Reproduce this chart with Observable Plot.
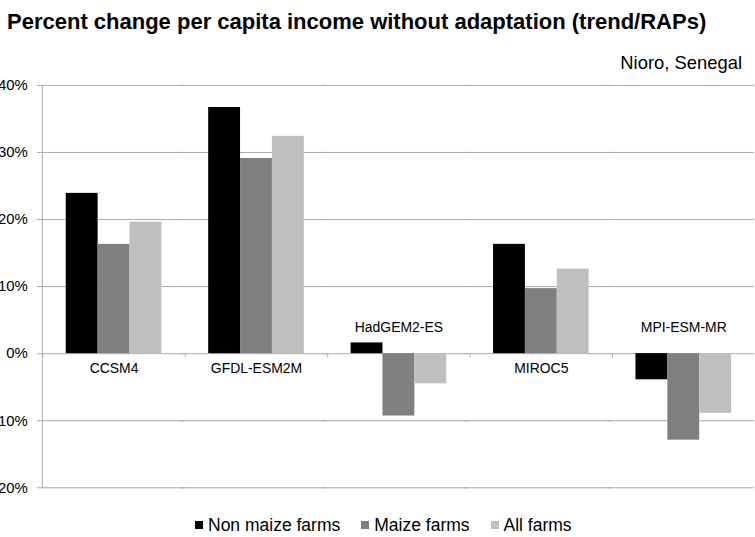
<!DOCTYPE html>
<html>
<head>
<meta charset="utf-8">
<script src="https://cdn.jsdelivr.net/npm/d3@7"></script>
<script src="https://cdn.jsdelivr.net/npm/@observablehq/plot@0.6"></script>
<style>
  html, body { margin: 0; padding: 0; background: #fff; overflow: hidden; }
  #wrap { position: relative; width: 755px; height: 537px; overflow: hidden; font-family: "Liberation Sans", Arial, sans-serif; color: #000; }
  #title { position: absolute; left: 7px; top: 10.7px; font-size: 22px; font-weight: bold; line-height: 22px; white-space: nowrap; }
  #subtitle { position: absolute; right: 13px; top: 54px; font-size: 18.4px; line-height: 18.4px; white-space: nowrap; }
  #chart { position: absolute; left: 0; top: 60px; }
  #legend { position: absolute; left: 195px; top: 516.9px; font-size: 17.5px; line-height: 17.5px; white-space: nowrap; }
  #legend .sw { display: inline-block; width: 8px; height: 8px; margin-right: 5px; margin-bottom: 1.7px; }
  #legend .item { margin-right: 21px; }
</style>
</head>
<body>
<div id="wrap">
  <div id="title">Percent change per capita income without adaptation (trend/RAPs)</div>
  <div id="subtitle">Nioro, Senegal</div>
  <div id="chart"></div>
  <div id="legend"></div>
</div>
<script>
const categories = ["CCSM4", "GFDL-ESM2M", "HadGEM2-ES", "MIROC5", "MPI-ESM-MR"];
const series = ["Non maize farms", "Maize farms", "All farms"];
const nonMaize = [23.9, 36.7, 1.6, 16.3, -3.9];
const maize = [16.3, 29.1, -9.3, 9.7, -12.9];
const allFarms = [19.6, 32.4, -4.5, 12.6, -8.9];
const colors = ["#000000", "#7f7f7f", "#bfbfbf"];
const yTicks = [-20, -10, 0, 10, 20, 30, 40];

const seriesValues = [nonMaize, maize, allFarms];
const data = [];
categories.forEach((c, i) => {
  series.forEach((s, j) => data.push({cat: c, series: s, value: seriesValues[j][i]}));
});
const hasNegative = (c) => data.some(d => d.cat === c && d.value < 0);
const labelsBelow = categories.filter(c => !hasNegative(c));
const labelsAbove = categories.filter(c => hasNegative(c));

const width = 758, marginLeft = 41, marginRight = 0;
const padOuter = 0.725;
const step = (width - marginLeft - marginRight) / categories.length / (series.length + 2 * padOuter);
const gridColor = "#ababab";

const chart = Plot.plot({
  width,
  height: 439,
  marginTop: 25,
  marginBottom: 10,
  marginLeft,
  marginRight,
  style: {fontFamily: "'Liberation Sans', Arial, sans-serif", color: "#000", background: "transparent"},
  fx: {domain: categories, padding: 0, axis: null, label: null},
  x: {domain: series, paddingInner: 0, paddingOuter: padOuter, axis: null, label: null},
  y: {domain: [-20, 40], axis: null, label: null},
  color: {domain: series, range: colors},
  marks: [
    Plot.ruleY(yTicks, {stroke: gridColor, strokeWidth: 1, insetLeft: -5}),
    Plot.ruleX(categories, {fx: d => d, x: () => series[0], y1: () => 0, y2: () => 0, insetBottom: -4, dx: -step * (0.5 + padOuter), stroke: gridColor}),
    Plot.barY(data, {fx: "cat", x: "series", y: "value", fill: "series"}),
    Plot.frame({anchor: "left", facetAnchor: "left", stroke: gridColor}),
    Plot.axisY({ticks: yTicks, tickSize: 0, tickPadding: 14.5, fontSize: 15, label: null, tickFormat: d => d + "%", facetAnchor: "left"}),
    Plot.text(labelsBelow, {fx: d => d, x: () => series[1], y: () => 0, text: d => d, fontSize: 14, dy: 14.5, fill: "#000"}),
    Plot.text(labelsAbove, {fx: d => d, x: () => series[1], y: () => 0, text: d => d, fontSize: 14, dy: -25.8, fill: "#000"})
  ]
});
document.getElementById("chart").appendChild(chart);

const legend = document.getElementById("legend");
series.forEach((s, i) => {
  const item = document.createElement("span");
  item.className = "item";
  const sw = document.createElement("span");
  sw.className = "sw";
  sw.style.background = colors[i];
  item.appendChild(sw);
  item.appendChild(document.createTextNode(s));
  legend.appendChild(item);
});
</script>
</body>
</html>
